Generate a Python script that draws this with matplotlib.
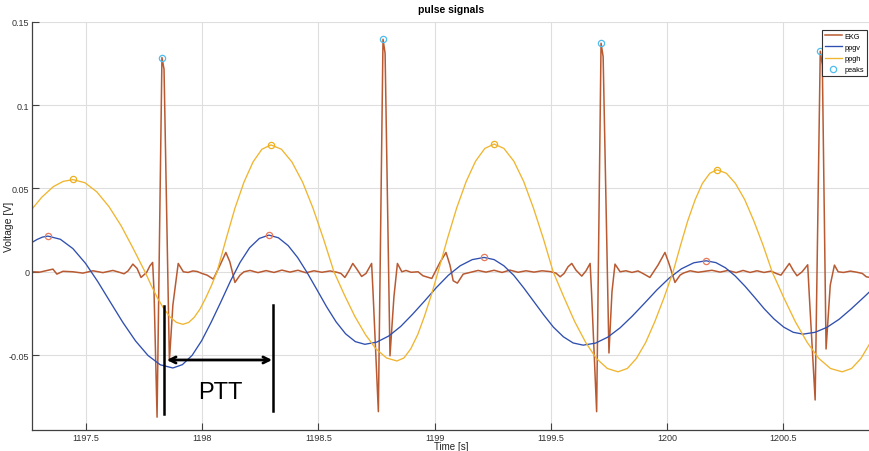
import matplotlib
matplotlib.use("Agg")
import matplotlib.pyplot as plt
from matplotlib.ticker import FuncFormatter

plt.rcParams['font.family'] = ['Liberation Sans', 'DejaVu Sans']

# EKG trace (time [s], voltage [V])
ekg_t = [1197.268, 1197.302, 1197.332, 1197.358, 1197.375, 1197.401, 1197.444, 1197.487,
         1197.530, 1197.573, 1197.616, 1197.646, 1197.664, 1197.681, 1197.702, 1197.720,
         1197.737, 1197.761, 1197.775, 1197.787, 1197.793, 1197.806, 1197.827, 1197.836,
         1197.859, 1197.874, 1197.897, 1197.919, 1197.939, 1197.960, 1197.978, 1197.999,
         1198.021, 1198.048, 1198.077, 1198.102, 1198.119, 1198.141, 1198.163, 1198.180,
         1198.206, 1198.240, 1198.275, 1198.309, 1198.343, 1198.378, 1198.412, 1198.447,
         1198.481, 1198.515, 1198.550, 1198.580, 1198.597, 1198.614, 1198.631, 1198.648,
         1198.666, 1198.686, 1198.705, 1198.729, 1198.735, 1198.758, 1198.778, 1198.787,
         1198.808, 1198.825, 1198.840, 1198.859, 1198.877, 1198.899, 1198.929, 1198.950,
         1198.988, 1199.023, 1199.049, 1199.066, 1199.080, 1199.098, 1199.123, 1199.152,
         1199.187, 1199.221, 1199.256, 1199.290, 1199.324, 1199.359, 1199.393, 1199.428,
         1199.462, 1199.497, 1199.522, 1199.540, 1199.557, 1199.574, 1199.590, 1199.608,
         1199.633, 1199.651, 1199.669, 1199.675, 1199.697, 1199.716, 1199.725, 1199.750,
         1199.763, 1199.776, 1199.798, 1199.823, 1199.849, 1199.875, 1199.896, 1199.926,
         1199.961, 1199.991, 1200.008, 1200.034, 1200.056, 1200.070, 1200.099, 1200.133,
         1200.168, 1200.193, 1200.228, 1200.262, 1200.297, 1200.327, 1200.357, 1200.387,
         1200.417, 1200.447, 1200.473, 1200.490, 1200.508, 1200.526, 1200.542, 1200.559,
         1200.581, 1200.605, 1200.611, 1200.637, 1200.659, 1200.668, 1200.684, 1200.702,
         1200.720, 1200.736, 1200.759, 1200.788, 1200.814, 1200.840, 1200.857, 1200.873,
         1200.882]
ekg_v = [0.0000, -0.0002, 0.0008, 0.0016, -0.0014, 0.0003, 0.0000, -0.0008,
         0.0006, -0.0005, 0.0008, -0.0004, -0.0012, 0.0005, 0.0046, 0.0020,
         -0.0034, -0.0004, 0.0035, 0.0056, -0.0120, -0.0872, 0.1285, 0.1215,
         -0.0534, -0.0200, 0.0050, 0.0000, -0.0004, 0.0005, 0.0002, -0.0010,
         -0.0020, -0.0044, 0.0040, 0.0116, 0.0060, -0.0064, -0.0020, 0.0000,
         0.0008, -0.0005, 0.0007, -0.0004, 0.0010, -0.0002, 0.0009, -0.0006,
         0.0006, -0.0003, 0.0005, -0.0003, -0.0010, -0.0034, 0.0005, 0.0050,
         0.0015, -0.0028, -0.0010, 0.0050, -0.0120, -0.0839, 0.1395, 0.1310,
         -0.0504, -0.0150, 0.0050, 0.0000, 0.0008, -0.0003, 0.0000, -0.0024,
         -0.0040, 0.0056, 0.0116, 0.0040, -0.0054, -0.0068, -0.0014, -0.0004,
         0.0008, -0.0002, 0.0009, -0.0004, 0.0010, -0.0003, 0.0006, -0.0002,
         0.0006, 0.0001, -0.0008, -0.0030, -0.0010, 0.0030, 0.0050, 0.0010,
         -0.0026, 0.0005, 0.0050, -0.0120, -0.0839, 0.1371, 0.1290, -0.0487,
         -0.0120, 0.0046, 0.0000, 0.0006, -0.0004, 0.0005, -0.0010, -0.0034,
         0.0040, 0.0116, 0.0050, -0.0064, -0.0020, -0.0008, 0.0006, -0.0003,
         0.0004, 0.0009, -0.0002, 0.0008, -0.0005, 0.0008, -0.0004, 0.0006,
         -0.0004, 0.0004, -0.0012, -0.0020, 0.0015, 0.0050, 0.0010, -0.0024,
         0.0000, 0.0042, -0.0120, -0.0769, 0.1323, 0.1240, -0.0463, -0.0080,
         0.0040, 0.0000, -0.0004, 0.0004, -0.0002, -0.0010, -0.0030, -0.0034,
         -0.0036]

# ppgv trace
ppgv_t = [1197.268, 1197.290, 1197.313, 1197.3365, 1197.390, 1197.444, 1197.498, 1197.551,
          1197.605, 1197.659, 1197.713, 1197.767, 1197.820, 1197.874, 1197.915, 1197.957,
          1197.998, 1198.039, 1198.081, 1198.122, 1198.163, 1198.204, 1198.246, 1198.287,
          1198.328, 1198.370, 1198.411, 1198.452, 1198.494, 1198.535, 1198.576, 1198.617,
          1198.659, 1198.700, 1198.751, 1198.803, 1198.854, 1198.905, 1198.957, 1199.008,
          1199.059, 1199.110, 1199.162, 1199.213, 1199.256, 1199.298, 1199.341, 1199.383,
          1199.426, 1199.469, 1199.511, 1199.554, 1199.596, 1199.639, 1199.692, 1199.745,
          1199.798, 1199.851, 1199.904, 1199.956, 1200.009, 1200.062, 1200.115, 1200.168,
          1200.210, 1200.251, 1200.293, 1200.335, 1200.377, 1200.418, 1200.460, 1200.502,
          1200.543, 1200.585, 1200.637, 1200.688, 1200.740, 1200.791, 1200.843, 1200.894]
ppgv_v = [0.0176, 0.0194, 0.0208, 0.0214, 0.0195, 0.0139, 0.0051, -0.0059,
          -0.0182, -0.0304, -0.0414, -0.0502, -0.0558, -0.0577, -0.0557, -0.0501,
          -0.0413, -0.0302, -0.0179, -0.0055, 0.0056, 0.0144, 0.0200, 0.0220,
          0.0204, 0.0157, 0.0085, -0.0006, -0.0108, -0.0209, -0.0300, -0.0372,
          -0.0419, -0.0435, -0.0422, -0.0385, -0.0328, -0.0255, -0.0175, -0.0094,
          -0.0021, 0.0036, 0.0073, 0.0086, 0.0073, 0.0036, -0.0022, -0.0096,
          -0.0177, -0.0258, -0.0332, -0.0390, -0.0427, -0.0440, -0.0428, -0.0392,
          -0.0336, -0.0265, -0.0187, -0.0109, -0.0038, 0.0018, 0.0054, 0.0066,
          0.0055, 0.0024, -0.0025, -0.0086, -0.0154, -0.0222, -0.0283, -0.0332,
          -0.0363, -0.0374, -0.0363, -0.0333, -0.0285, -0.0224, -0.0157, -0.0090]

# ppgh trace
ppgh_t = [1197.268, 1197.310, 1197.360, 1197.402, 1197.444, 1197.496, 1197.547, 1197.599,
          1197.651, 1197.702, 1197.754, 1197.781, 1197.808, 1197.836, 1197.863, 1197.890,
          1197.917, 1197.942, 1197.966, 1197.991, 1198.015, 1198.040, 1198.064, 1198.103,
          1198.141, 1198.180, 1198.219, 1198.257, 1198.296, 1198.341, 1198.386, 1198.432,
          1198.477, 1198.522, 1198.567, 1198.612, 1198.657, 1198.703, 1198.748, 1198.793,
          1198.838, 1198.868, 1198.897, 1198.927, 1198.956, 1198.986, 1199.015, 1199.055,
          1199.095, 1199.136, 1199.176, 1199.216, 1199.256, 1199.298, 1199.341, 1199.383,
          1199.425, 1199.468, 1199.510, 1199.557, 1199.603, 1199.650, 1199.696, 1199.743,
          1199.789, 1199.829, 1199.868, 1199.908, 1199.947, 1199.987, 1200.026, 1200.058,
          1200.089, 1200.121, 1200.152, 1200.184, 1200.215, 1200.255, 1200.294, 1200.334,
          1200.373, 1200.413, 1200.452, 1200.502, 1200.552, 1200.603, 1200.653, 1200.703,
          1200.753, 1200.794, 1200.834, 1200.875]
ppgh_v = [0.0376, 0.0447, 0.0511, 0.0542, 0.0553, 0.0534, 0.0479, 0.0391,
          0.0277, 0.0143, 0.0000, -0.0082, -0.0158, -0.0223, -0.0273, -0.0304,
          -0.0315, -0.0304, -0.0273, -0.0223, -0.0158, -0.0082, 0.0000, 0.0197,
          0.0381, 0.0538, 0.0659, 0.0735, 0.0761, 0.0735, 0.0659, 0.0538,
          0.0381, 0.0197, 0.0000, -0.0139, -0.0268, -0.0378, -0.0463, -0.0517,
          -0.0535, -0.0517, -0.0463, -0.0378, -0.0268, -0.0139, 0.0000, 0.0198,
          0.0383, 0.0542, 0.0663, 0.0740, 0.0766, 0.0740, 0.0663, 0.0542,
          0.0383, 0.0198, 0.0000, -0.0155, -0.0300, -0.0424, -0.0520, -0.0580,
          -0.0600, -0.0580, -0.0520, -0.0424, -0.0300, -0.0155, 0.0000, 0.0159,
          0.0306, 0.0433, 0.0530, 0.0591, 0.0612, 0.0591, 0.0530, 0.0433,
          0.0306, 0.0159, 0.0000, -0.0155, -0.0300, -0.0424, -0.0520, -0.0580,
          -0.0600, -0.0580, -0.0520, -0.0424]

# detected peaks
ekg_peak_t = [1197.827, 1198.778, 1199.716, 1200.659]
ekg_peak_v = [0.1285, 0.1395, 0.1371, 0.1323]
ppgh_peak_t = [1197.444, 1198.296, 1199.256, 1200.215]
ppgh_peak_v = [0.0556, 0.0761, 0.0766, 0.0612]
ppgv_peak_t = [1197.3365, 1198.287, 1199.213, 1200.168]
ppgv_peak_v = [0.0212, 0.0221, 0.0086, 0.0066]

# PTT marker: R peak -> ppgv peak
ptt_start = 1197.836
ptt_end = 1198.305

x_ticks = [1197.5, 1198, 1198.5, 1199, 1199.5, 1200, 1200.5]
y_ticks = [-0.05, 0, 0.05, 0.1, 0.15]

fig = plt.figure(figsize=(8.7, 4.52), dpi=100)
ax = fig.add_axes([32 / 870, 21 / 452, 838 / 870, 408.3 / 452])

ax.plot(ekg_t, ekg_v, color='#B85A32', lw=1.1, label='EKG')
ax.plot(ppgv_t, ppgv_v, color='#2F4FB0', lw=0.95, label='ppgv')
ax.plot(ppgh_t, ppgh_v, color='#F0B530', lw=0.95, label='ppgh')
ax.plot(ekg_peak_t, ekg_peak_v, 'o', mfc='none', mec='#4DBEEE', ms=4.5, mew=0.9, label='peaks')
ax.plot(ppgh_peak_t, ppgh_peak_v, 'o', mfc='none', mec='#EDB120', ms=4.5, mew=0.9, label='_nolegend_')
ax.plot(ppgv_peak_t, ppgv_peak_v, 'o', mfc='none', mec='#E8795A', ms=4.5, mew=0.9, label='_nolegend_')

# PTT annotation
ax.plot([ptt_start, ptt_start], [-0.0206, -0.0853], color='black', lw=1.8)
ax.plot([ptt_end, ptt_end], [-0.0200, -0.0835], color='black', lw=1.8)
ax.annotate('', xy=(ptt_end - 0.004, -0.0529), xytext=(ptt_start + 0.012, -0.0529),
            arrowprops=dict(arrowstyle='<->', color='black', lw=2, mutation_scale=11,
                            shrinkA=0, shrinkB=0))
ax.text(1198.077, -0.0721, 'PTT', fontsize=17, ha='center', va='center')

ax.set_xlim(1197.268, 1200.873)
ax.set_ylim(-0.0949, 0.15)
ax.set_xticks(x_ticks)
ax.set_yticks(y_ticks)
fmt = FuncFormatter(lambda v, p: f'{v:g}')
ax.xaxis.set_major_formatter(fmt)
ax.yaxis.set_major_formatter(fmt)
ax.tick_params(direction='in', length=5, width=0.8, color='#404040',
               labelsize=6.5, labelcolor='#333333', pad=2)
ax.grid(True, color='#dedede', lw=0.8)
ax.set_axisbelow(True)
for s in ['top', 'right']:
    ax.spines[s].set_visible(False)
for s in ['left', 'bottom']:
    ax.spines[s].set_color('#404040')
    ax.spines[s].set_linewidth(0.9)

ax.set_title('pulse signals', fontsize=7.5, fontweight='bold', pad=7)
ax.set_xlabel('Time [s]', fontsize=7, color='#222222')
ax.xaxis.set_label_coords(0.5, -0.027)
ax.set_ylabel('Voltage [V]', fontsize=7.5, color='#222222')
ax.yaxis.set_label_coords(-0.022, 0.5)

leg = ax.legend(loc='upper left', bbox_to_anchor=(822 / 870, 1 - 31 / 452),
                bbox_transform=fig.transFigure, fontsize=5.3, fancybox=False,
                framealpha=1, edgecolor='#333333', handlelength=2.4,
                handletextpad=0.3, labelspacing=0.55, borderpad=0.35,
                borderaxespad=0)
leg.get_frame().set_linewidth(0.8)

fig.savefig('out.png', dpi=100)
